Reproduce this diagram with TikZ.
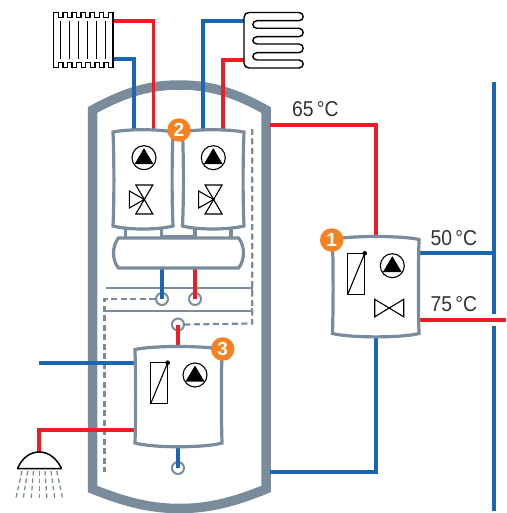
\documentclass[tikz,border=0pt]{standalone}
\usepackage{fontspec}
\setmainfont{Liberation Sans}
\definecolor{shell}{HTML}{7A8C9C}
\definecolor{hot}{HTML}{EE1C25}
\definecolor{cold}{HTML}{1B66B2}
\definecolor{badge}{HTML}{F58220}
\definecolor{txt}{HTML}{333333}
\tikzset{
  x=1pt,y=-1pt,
  tankline/.style={draw=shell,line width=9.5pt,line join=miter},
  modline/.style={draw=shell,line width=3.2pt,line join=miter},
  thinshell/.style={draw=shell,line width=2.2pt},
  dashshell/.style={draw=shell,line width=2.2pt,dash pattern=on 6pt off 3.5pt},
  hotpipe/.style={draw=hot,line width=3.8pt},
  coldpipe/.style={draw=cold,line width=3.8pt},
  symb/.style={draw=black,line width=1.1pt,line join=miter},
  port/.style={circle,draw=shell,line width=2pt,minimum size=12pt,inner sep=0pt},
  numbadge/.style={circle,fill=badge,text=white,minimum size=23.5pt,inner sep=0pt,font=\fontsize{19}{19}\selectfont\bfseries},
  templabel/.style={anchor=base west,inner sep=0pt,text=txt,xscale=0.9,font=\fontsize{21.5}{21.5}\selectfont},
  pics/pump/.style={code={
    \draw[symb] (0,0) circle (12);
    \fill[black] (-9.5,6.5) -- (9.5,6.5) -- (0,-9.5) -- cycle;
  }},
  pics/threeway/.style={code={
    \draw[symb] (-8.5,-14) -- (8.5,-14) -- (-8.5,15) -- (8.5,15) -- cycle;
    \draw[symb] (0,0.5) -- (-15,-8) -- (-15,9) -- cycle;
  }},
  pics/thermo/.style={code={
    \draw[symb] (0,0) rectangle (17,41);
    \draw[symb] (0,41) -- (17,0);
    \fill[black] (17,0) circle (2.3);
  }},
  pics/twoway/.style={code={
    \draw[symb] (0,0) -- (29,17.5) -- (29,0) -- (0,17.5) -- cycle;
  }}
}
\begin{document}
\begin{tikzpicture}
\useasboundingbox (0,0) rectangle (506,513);
% named points
\coordinate (radHot) at (113,20.7);
\coordinate (radCold) at (113,59.3);
\coordinate (coilCold) at (244,20.7);
\coordinate (coilHot) at (244,60);
\coordinate (modAtop) at (134,130);
\coordinate (modAtopH) at (153.5,130);
\coordinate (modBtop) at (203.3,130);
\coordinate (modBtopH) at (222.7,130);
\coordinate (mod1top) at (375.7,237);
\coordinate (mod1bot) at (375.7,336);
\coordinate (mod1r) at (419,253.3);
\coordinate (mod1rH) at (419,320);
\coordinate (mod3l) at (135,363);
\coordinate (mod3lH) at (135,430);
\coordinate (mod3top) at (178,347);
\coordinate (mod3bot) at (178,446);
\coordinate (tankR) at (270,125);
\coordinate (tankRb) at (270,472);
\coordinate (busTop) at (494,82);
\coordinate (busA) at (494,314);
\coordinate (busB) at (494,326);
\coordinate (busEnd) at (494,511);
\coordinate (busRed) at (506,320);
\coordinate (coldEnd) at (39.3,363);
\coordinate (showerTop) at (39.3,452);
\coordinate (bufBotC) at (162,268);
\coordinate (bufBotH) at (195,268);

% tank shell
\draw[tankline] (92.5,110) .. controls (125,92) and (150,85) .. (179.5,85)
   .. controls (209,85) and (234,92) .. (266,110)
   -- (266,489) .. controls (234,502) and (209,508.5) .. (179.5,508.5)
   .. controls (150,508.5) and (125,502) .. (92.5,489) -- cycle;

% thin lines & dashes inside
\draw[thinshell] (106,287.7) -- (252.3,287.7);
\draw[thinshell] (252.3,285) -- (252.3,290.5);
\draw[thinshell] (104.5,310.7) -- (252.3,310.7);
\draw[thinshell] (252.3,308) -- (252.3,313.5);
\node[port] (p1) at (162,299) {};
\node[port] (p2) at (195,299) {};
\node[port] (p3) at (178,324.5) {};
\node[port] (p4) at (178,468) {};
\draw[dashshell] (252.3,129) -- (252.3,323.5) -- (p3.east);
\draw[dashshell] (p1.west) -- (104.5,299) -- (104.5,472);

% pipes
\draw[hotpipe] (radHot) -- (153.5,20.7) -- (modAtopH);
\draw[coldpipe] (radCold) -- (134,59.3) -- (modAtop);
\draw[coldpipe] (coilCold) -- (203.3,20.7) -- (modBtop);
\draw[hotpipe] (coilHot) -- (222.7,60) -- (modBtopH);
\draw[coldpipe] (bufBotC) -- (p1.center);
\draw[hotpipe] (bufBotH) -- (p2.center);
\draw[hotpipe] (p3.center) -- (mod3top);
\draw[coldpipe] (mod3bot) -- (p4.center);
\draw[hotpipe] (tankR) -- (375.7,125) -- (mod1top);
\draw[coldpipe] (mod1bot) -- (375.7,472) -- (tankRb);
\draw[coldpipe] (mod1r) -- (494,253.3);
\draw[hotpipe] (mod1rH) -- (busRed);
\draw[coldpipe] (busTop) -- (busA);
\draw[coldpipe] (busB) -- (busEnd);
\draw[coldpipe] (coldEnd) -- (mod3l);
\draw[hotpipe] (mod3lH) -- (39.3,430) -- (showerTop);

% buffer below modules 2
\draw[modline] (125.7,228) -- (125.7,238) (161.7,228) -- (161.7,238)
               (195,228) -- (195,238) (231,228) -- (231,238);
\draw[modline] (161.7,236.5) -- (195,236.5);
\draw[modline,fill=white] (118.5,238) -- (238.5,238)
   .. controls (242,242) and (243.5,248) .. (243.5,253)
   .. controls (243.5,258) and (242,264) .. (238.5,268)
   -- (118.5,268)
   .. controls (115,264) and (113.5,258) .. (113.5,253)
   .. controls (113.5,248) and (115,242) .. (118.5,238) -- cycle;

% modules
\draw[modline,fill=white] (113,132) .. controls (128,129) and (158,129) .. (173,132)
   .. controls (171.8,160) and (171.8,200) .. (173,226)
   .. controls (158,230) and (128,230) .. (113,226)
   .. controls (114.2,200) and (114.2,160) .. (113,132) -- cycle;
\draw[modline,fill=white] (182.5,226) .. controls (197.5,230) and (227.5,230) .. (244,226)
   .. controls (242.8,200) and (242.8,160) .. (244,132)
   .. controls (227.5,129) and (197.5,129) .. (182.5,132)
   .. controls (183.7,160) and (183.7,200) .. (182.5,226) -- cycle;
\draw[modline,fill=white] (332.5,239.5) .. controls (350,235.5) and (402,235.5) .. (419,239.5)
   .. controls (418.2,270) and (418.2,305) .. (419,333.5)
   .. controls (402,338) and (350,338) .. (332.5,333.5)
   .. controls (333.3,305) and (333.3,270) .. (332.5,239.5) -- cycle;
\draw[modline,fill=white] (135,349.5) .. controls (152,345.5) and (205,345.5) .. (222,349.5)
   .. controls (221.2,380) and (221.2,415) .. (222,443)
   .. controls (205,448) and (152,448) .. (135,443)
   .. controls (135.8,415) and (135.8,380) .. (135,349.5) -- cycle;

% symbols
\pic at (144,157.7) {pump};
\pic at (213.3,157.7) {pump};
\pic at (392.3,265.7) {pump};
\pic at (195,375) {pump};
\pic at (144.3,199) {threeway};
\pic at (213.6,199) {threeway};
\pic at (347.7,253.3) {thermo};
\pic at (150.7,362.7) {thermo};
\pic at (374.7,299.3) {twoway};

% radiator
\draw[symb,line width=1.4pt] (53.7,12.7)
  \foreach \i in {0,...,5} { -- ++(4.5,0) -- ++(0,5) -- ++(4.6,0) -- ++(0,-5) }
  -- (113,12.7) -- (113,67.7)
  \foreach \i in {0,...,5} { -- ++(-4.5,0) -- ++(0,-5) -- ++(-4.6,0) -- ++(0,5) }
  -- (53.7,67.7) -- cycle;
\foreach \x in {60.7,69.7,78.7,87.7,96.7,105.7}
  \draw[black,line width=1.4pt] (\x,21) -- (\x,58.7);

% coil
\draw[black,line width=1.4pt,line join=round] (249,12.5) -- (299,12.5)
  .. controls (304.5,12.5) and (304.5,20.7) .. (299,20.7) -- (257,20.7)
  .. controls (251.5,20.7) and (251.5,28.3) .. (257,28.3) -- (299,28.3)
  .. controls (304.5,28.3) and (304.5,36.7) .. (299,36.7) -- (257,36.7)
  .. controls (251.5,36.7) and (251.5,44) .. (257,44) -- (299,44)
  .. controls (304.5,44) and (304.5,52.7) .. (299,52.7) -- (257,52.7)
  .. controls (251.5,52.7) and (251.5,60) .. (257,60) -- (299,60)
  .. controls (304.5,60) and (304.5,68) .. (299,68) -- (249,68)
  .. controls (246,68) and (244,66) .. (244,63) -- (244,17.5)
  .. controls (244,14.5) and (246,12.5) .. (249,12.5) -- cycle;

% shower
\draw[black,line width=1.5pt,line join=round] (17.5,468.5) .. controls (22,458) and (30,452) .. (39.3,452)
   .. controls (48.5,452) and (56.5,458) .. (61.5,468.5) -- cycle;
\foreach \a/\b in {22/15.5,27.7/23,33.5/31,39.3/39.3,45/47,51/55,56.7/63}
  \draw[draw=shell,line width=1.3pt,dash pattern=on 4.5pt off 3pt] (\a,471) -- (\b,500);

% badges
\node[numbadge] (b2) at (179,130) {2};
\node[numbadge] (b3) at (222.7,349) {3};
\node[numbadge] (b1) at (331.7,240) {1};

% labels
\node[templabel] (t65) at (292,116.7) {65\,°C};
\node[templabel] (t50) at (430.5,245) {50\,°C};
\node[templabel] (t75) at (430.5,311) {75\,°C};
\end{tikzpicture}
\end{document}
